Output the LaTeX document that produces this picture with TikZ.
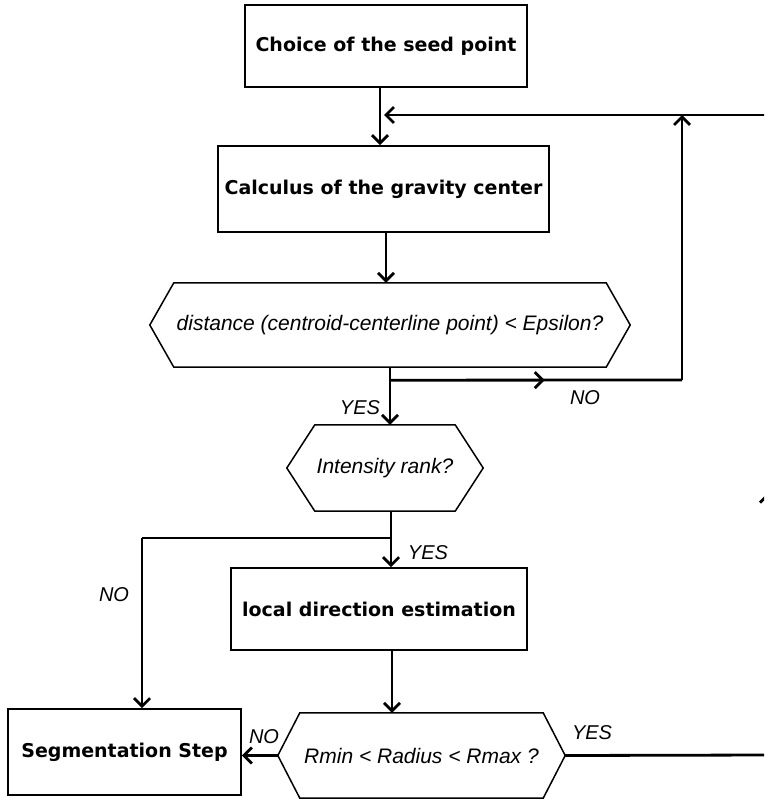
\documentclass[tikz,border=0pt]{standalone}
\usepackage{fontspec}
\setmainfont{Liberation Sans}
\newfontfamily\boxfont{DejaVu Sans}
\usetikzlibrary{arrows.meta,calc,decorations.markings}
\tikzset{
  procbox/.style={draw, line width=1.6pt, rectangle, inner sep=0pt,
    font=\boxfont\bfseries\fontsize{19}{22}\selectfont},
  hexnode/.style={rectangle, inner sep=0pt,
    font=\itshape\fontsize{21}{24}\selectfont},
  hexline/.style={line width=1.5pt},
  conn/.style={line width=2.8pt},
  arr/.style={conn, -{Straight Barb[length=8pt,width=16pt]}},
  midarr/.style={conn, postaction={decorate},
    decoration={markings, mark=at position #1 with {\arrow{Straight Barb[length=8pt,width=16pt]}}}},
  lbl/.style={font=\itshape\fontsize{20}{22}\selectfont, inner sep=0pt}
}
\newcommand{\hexdraw}[2]{%
  \draw[hexline] (#1.west) -- ([xshift=#2]#1.north west) -- ([xshift=-#2]#1.north east)
    -- (#1.east) -- ([xshift=-#2]#1.south east) -- ([xshift=#2]#1.south west) -- cycle;}
\begin{document}
\begin{tikzpicture}[x=1pt,y=-1pt]
\useasboundingbox (0,0) rectangle (764,799);
\clip (0,0) rectangle (764,799);
\fill[white] (0,0) rectangle (764,799);

% boxes
\node[procbox, minimum width=282pt, minimum height=82pt] (b1) at (386,46) {Choice of the seed point};
\node[procbox, minimum width=331pt, minimum height=86pt] (b2) at (383.5,189) {Calculus of the gravity center};
\node[procbox, minimum width=296pt, minimum height=82pt] (b3) at (379,609) {local direction estimation};
\node[procbox, minimum width=233pt, minimum height=86pt] (b4) at (124.5,752) {Segmentation Step};

% decisions
\node[hexnode, minimum width=480pt, minimum height=84pt] (h1) at (390,325) {distance (centroid-centerline point) < Epsilon?};
\hexdraw{h1}{24pt}
\node[hexnode, minimum width=196pt, minimum height=86pt] (h2) at (385,468) {Intensity rank?};
\hexdraw{h2}{28pt}
\node[hexnode, minimum width=287pt, minimum height=85pt] (h3) at (421.5,755.5) {Rmin < Radius < Rmax ?};
\hexdraw{h3}{22pt}

% helper coordinates
\coordinate (j1) at ([yshift=-13pt]h1.south);
\coordinate (k1) at (682,380);
\coordinate (k2) at (682,115);
\coordinate (t1) at (384,115);
\coordinate (r1) at (768,755);
\coordinate (r2) at (768,115);
\coordinate (j2) at (391,538);
\coordinate (k3) at (142,538);

% connectors
\draw[arr] ([xshift=-6pt]b1.south) -- ([xshift=-6pt]b1.south |- b2.north);
\draw[arr] ([xshift=2.5pt]b2.south) -- ([xshift=2.5pt]b2.south |- h1.north);
\draw[arr] (h1.south) -- (h1.south |- h2.north);
\draw[midarr=0.53] (j1) -- (k1);
\draw[arr] (k1) -- (k2);
\draw[conn] ([xshift=6pt]h2.south) -- (j2);
\draw[arr] (j2) -- (j2 |- b3.north);
\draw[conn] (j2) -- (k3);
\draw[arr] (k3) -- (k3 |- b4.north);
\draw[arr] ([xshift=13pt]b3.south) -- ([xshift=13pt]b3.south |- h3.north);
\draw[arr] (h3.west) -- (h3.west -| b4.east);
\draw[conn] (h3.east) -- (r1);
\draw[midarr=0.41] (r1) -- (r2);
\draw[arr] (r2) -- (t1);

% labels
\node[lbl] (l1) at (360,407.5) {YES};
\node[lbl] (l2) at (585,398) {NO};
\node[lbl] (l3) at (428,553) {YES};
\node[lbl] (l4) at (114,595) {NO};
\node[lbl] (l5) at (264,737) {NO};
\node[lbl] (l6) at (592,733) {YES};
\end{tikzpicture}
\end{document}
